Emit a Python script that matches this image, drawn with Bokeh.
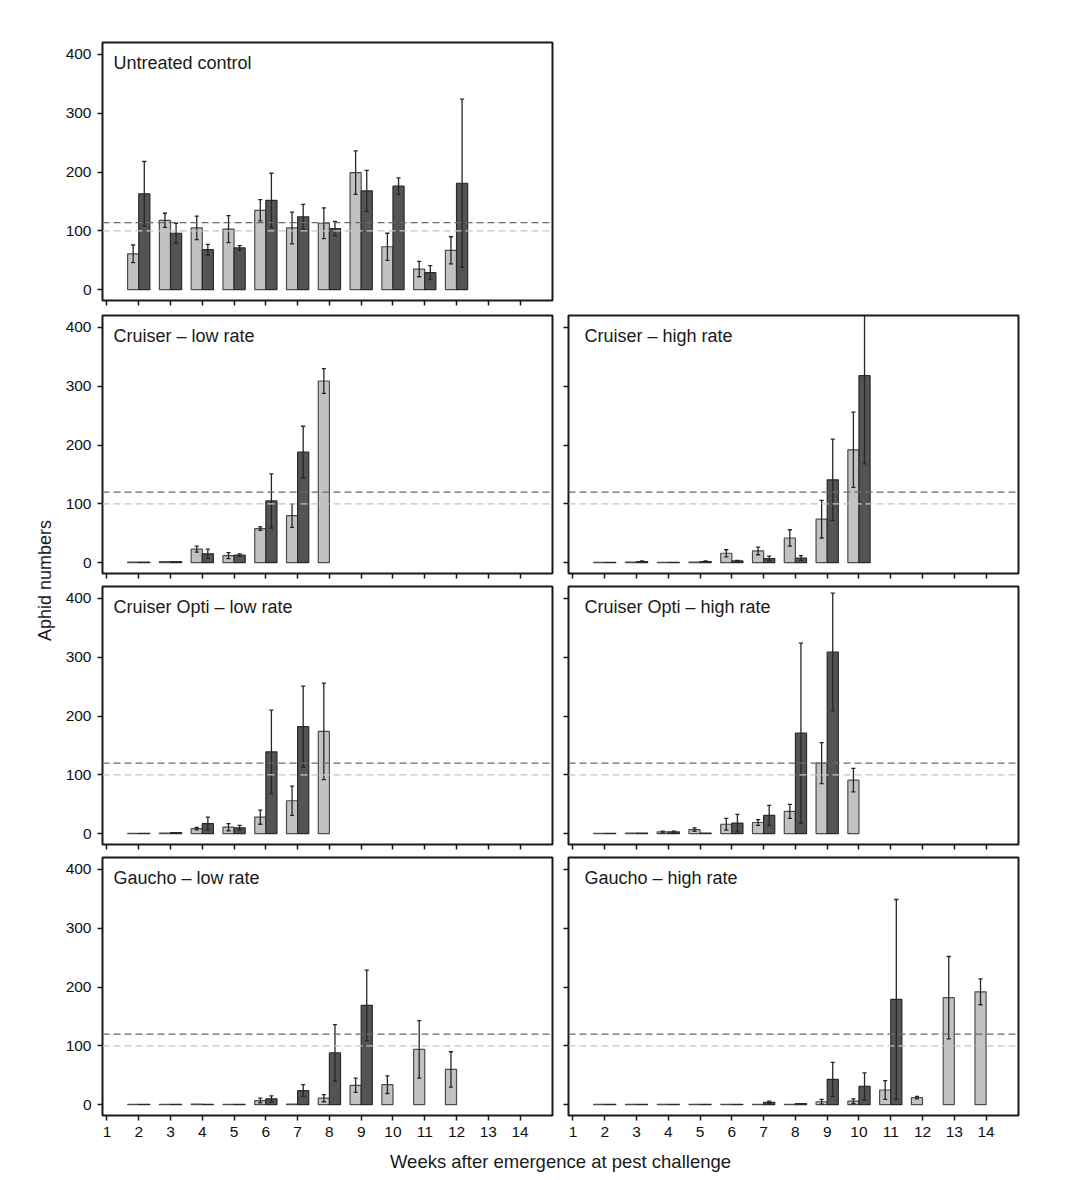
import math
import numpy as np
from bokeh.plotting import figure
from bokeh.models import ColumnDataSource, FixedTicker, Span, Label, Range1d
from bokeh.layouts import row, column
from bokeh.transform import dodge
from bokeh.embed import file_html
from bokeh.resources import INLINE
from bokeh.core.properties import value

nan = float("nan")

weeks = [2, 3, 4, 5, 6, 7, 8, 9, 10, 11, 12, 13, 14]
x_ticks = list(range(1, 15))
y_ticks = [0, 100, 200, 300, 400]

titles = ["Untreated control", "Cruiser \u2013 low rate", "Cruiser \u2013 high rate",
          "Cruiser Opti \u2013 low rate", "Cruiser Opti \u2013 high rate",
          "Gaucho \u2013 low rate", "Gaucho \u2013 high rate"]

# light bars (first series) and dark bars (second series), weeks 2..14, with SE
ctrl_light = [61, 118, 105, 103, 135, 105, 113, 199, 73, 35, 67, nan, nan]
ctrl_light_se = [15, 12, 20, 23, 18, 27, 26, 37, 23, 13, 23, nan, nan]
ctrl_dark = [163, 96, 68, 71, 152, 124, 104, 168, 176, 29, 181, nan, nan]
ctrl_dark_se = [55, 17, 9, 4, 46, 21, 12, 35, 14, 12, 143, nan, nan]

cl_light = [1, 2, 23, 12, 58, 80, 309, nan, nan, nan, nan, nan, nan]
cl_light_se = [nan, nan, 5, 5, 3, 20, 21, nan, nan, nan, nan, nan, nan]
cl_dark = [1, 2, 15, 13, 105, 188, nan, nan, nan, nan, nan, nan, nan]
cl_dark_se = [nan, nan, 8, 2, 46, 44, nan, nan, nan, nan, nan, nan, nan]

ch_light = [0.5, 1, 0.5, 1, 16, 20, 42, 74, 192, nan, nan, nan, nan]
ch_light_se = [nan, nan, nan, nan, 6, 6.5, 14, 32, 64, nan, nan, nan, nan]
ch_dark = [0.5, 2, 0.5, 2, 3, 7, 8, 141, 318, nan, nan, nan, nan]
ch_dark_se = [nan, 1, nan, 1, 1, 4, 4, 69, 150, nan, nan, nan, nan]

ol_light = [0.5, 1, 8.5, 11, 28, 56, 174, nan, nan, nan, nan, nan, nan]
ol_light_se = [nan, nan, 2, 6, 12, 25, 82, nan, nan, nan, nan, nan, nan]
ol_dark = [0.5, 2, 17, 10, 139, 182, nan, nan, nan, nan, nan, nan, nan]
ol_dark_se = [nan, nan, 11, 4, 71, 69, nan, nan, nan, nan, nan, nan, nan]

oh_light = [0.5, 1, 3, 7, 16, 19, 38, 120, 91, nan, nan, nan, nan]
oh_light_se = [nan, nan, 1.5, 3, 10, 5, 12, 35, 20, nan, nan, nan, nan]
oh_dark = [0.5, 1, 3, 1, 18, 31, 171, 309, nan, nan, nan, nan, nan]
oh_dark_se = [nan, nan, 1.5, nan, 15, 17, 153, 100, nan, nan, nan, nan, nan]

gl_light = [0.5, 0.5, 1, 0.5, 7, 1, 11, 33, 34, 94, 60, nan, nan]
gl_light_se = [nan, nan, nan, nan, 4, nan, 6, 12, 15, 49, 30, nan, nan]
gl_dark = [0.5, 0.5, 0.5, 0.5, 10, 24, 88, 169, nan, nan, nan, nan, nan]
gl_dark_se = [nan, nan, nan, nan, 5, 10, 48, 60, nan, nan, nan, nan, nan]

gh_light = [0.5, 0.5, 0.5, 0.5, 0.5, 0.5, 0.5, 5, 6, 25, 12, 182, 192]
gh_light_se = [nan, nan, nan, nan, nan, nan, nan, 4, 4, 16, 2, 70, 22]
gh_dark = [0.5, 0.5, 0.5, 0.5, 0.5, 4, 2, 43, 31, 179, nan, nan, nan]
gh_dark_se = [nan, nan, nan, nan, nan, 2, nan, 29, 23, 170, nan, nan, nan]

ctrl_threshold = 114
threshold = 120
reference_level = 100

FONT = "Liberation Sans"
X0, X1 = 0.86, 15.02
Y0, Y1 = -18.4, 420.4
FW, FH = 450, 258
BW = 0.35
CAP = 0.065
LIGHT_FILL, LIGHT_LINE = "#c2c2c2", "#4d4d4d"
DARK_FILL, DARK_LINE = "#545454", "#2a2a2a"
ERR = "#262626"


def make_panel(title, light, light_se, dark, dark_se, thr, left, bottom, top_b, bot_b):
    lb = 44 if left else 8
    rb = 8 if left else 10
    p = figure(frame_width=FW, frame_height=FH,
               x_range=Range1d(X0, X1), y_range=Range1d(Y0, Y1),
               output_backend="svg", toolbar_location=None,
               min_border_left=lb, min_border_right=rb,
               min_border_top=top_b, min_border_bottom=bot_b,
               background_fill_color="white", border_fill_color="white")
    p.grid.visible = False
    p.outline_line_color = "#1a1a1a"
    p.outline_line_width = 2

    for ax in (p.xaxis, p.yaxis):
        ax.axis_line_color = None
        ax.major_tick_in = 0
        ax.major_tick_out = 5
        ax.major_tick_line_width = 1.5
        ax.major_tick_line_color = "#1a1a1a"
        ax.minor_tick_line_color = None
        ax.major_label_text_font = FONT
        ax.major_label_text_font_size = "15.5px"
        ax.major_label_text_color = "#111111"
    p.xaxis.ticker = FixedTicker(ticks=x_ticks)
    p.yaxis.ticker = FixedTicker(ticks=y_ticks)
    p.yaxis.major_label_standoff = 6
    p.xaxis.major_label_standoff = 6
    if not left:
        p.yaxis.major_label_overrides = {t: "" for t in y_ticks}
        p.yaxis.major_label_standoff = 0
    if not bottom:
        p.xaxis.major_label_overrides = {t: "" for t in x_ticks}
        p.xaxis.major_label_standoff = 0

    light = np.array(light, dtype=float)
    light_se = np.array(light_se, dtype=float)
    dark = np.array(dark, dtype=float)
    dark_se = np.array(dark_se, dtype=float)
    src = ColumnDataSource(dict(
        week=np.array(weeks, dtype=float),
        light=light, light_lo=light - light_se, light_hi=light + light_se,
        dark=dark, dark_lo=dark - dark_se, dark_hi=dark + dark_se,
    ))

    p.add_layout(Span(location=thr, dimension="width", line_color="#6a6a6a",
                      line_dash="7 4", line_width=1.4))
    p.add_layout(Span(location=reference_level, dimension="width", line_color="#c4c4c4",
                      line_dash="7 4", line_width=1.4))

    lx = dodge("week", -BW / 2, range=p.x_range)
    dx = dodge("week", BW / 2, range=p.x_range)
    p.vbar(x=lx, top="light", bottom=0, width=BW, source=src,
           fill_color=LIGHT_FILL, line_color=LIGHT_LINE, line_width=1.2)
    p.vbar(x=dx, top="dark", bottom=0, width=BW, source=src,
           fill_color=DARK_FILL, line_color=DARK_LINE, line_width=1.2)

    for off, lo, hi in ((-BW / 2, "light_lo", "light_hi"), (BW / 2, "dark_lo", "dark_hi")):
        cx = dodge("week", off, range=p.x_range)
        p.segment(x0=cx, y0=lo, x1=cx, y1=hi, source=src, line_color=ERR, line_width=1.3)
        c0 = dodge("week", off - CAP, range=p.x_range)
        c1 = dodge("week", off + CAP, range=p.x_range)
        p.segment(x0=c0, y0=hi, x1=c1, y1=hi, source=src, line_color=ERR, line_width=1.3)
        p.segment(x0=c0, y0=lo, x1=c1, y1=lo, source=src, line_color=ERR, line_width=1.3)

    px_x = FW / (X1 - X0)
    px_y = FH / (Y1 - Y0)
    tx = X0 + (11 if left else 16) / px_x
    ty = Y1 - 20 / px_y
    p.add_layout(Label(x=tx, y=ty, text=title, text_font=FONT, text_font_size="18px",
                       text_baseline="middle", text_align="left", text_color="#1a1a1a"))
    return p


p1 = make_panel(titles[0], ctrl_light, ctrl_light_se, ctrl_dark, ctrl_dark_se, ctrl_threshold, True, False, 42, 8)
p2 = make_panel(titles[1], cl_light, cl_light_se, cl_dark, cl_dark_se, threshold, True, False, 7, 6)
p3 = make_panel(titles[2], ch_light, ch_light_se, ch_dark, ch_dark_se, threshold, False, False, 7, 6)
p4 = make_panel(titles[3], ol_light, ol_light_se, ol_dark, ol_dark_se, threshold, True, False, 7, 7)
p5 = make_panel(titles[4], oh_light, oh_light_se, oh_dark, oh_dark_se, threshold, False, False, 7, 7)
p6 = make_panel(titles[5], gl_light, gl_light_se, gl_dark, gl_dark_se, threshold, True, True, 6, 30)
p7 = make_panel(titles[6], gh_light, gh_light_se, gh_dark, gh_dark_se, threshold, False, True, 6, 30)

YL_W = 58
LEFT_W = 44 + FW + 8
RIGHT_W = 8 + FW + 10
XL_H = 32
TOTAL_H = (42 + FH + 8) + (7 + FH + 6) + (7 + FH + 7) + (6 + FH + 30) + XL_H

xlab = figure(width=LEFT_W + RIGHT_W, height=XL_H, min_border=0,
              x_range=Range1d(0, LEFT_W + RIGHT_W), y_range=Range1d(0, XL_H),
              x_axis_location=None, y_axis_location=None,
              output_backend="svg", toolbar_location=None)
xlab.grid.visible = False
xlab.outline_line_color = None
xlab.text(x=[560 - YL_W], y=[XL_H - 16], text=["Weeks after emergence at pest challenge"],
          text_font=value(FONT), text_font_size="18.5px", text_align="center",
          text_baseline="middle", text_color="#1a1a1a")

ylab = figure(width=YL_W, height=TOTAL_H, min_border=0,
              x_range=Range1d(0, YL_W), y_range=Range1d(0, TOTAL_H),
              x_axis_location=None, y_axis_location=None,
              output_backend="svg", toolbar_location=None)
ylab.grid.visible = False
ylab.outline_line_color = None
ylab.text(x=[44], y=[TOTAL_H - 580], text=["Aphid numbers"], angle=math.pi / 2,
          text_font=value(FONT), text_font_size="18px", text_align="center",
          text_baseline="middle", text_color="#1a1a1a")

layout = row(ylab, column(row(p1), row(p2, p3), row(p4, p5), row(p6, p7), xlab))

open("out.html", "w").write(file_html(layout, INLINE))
